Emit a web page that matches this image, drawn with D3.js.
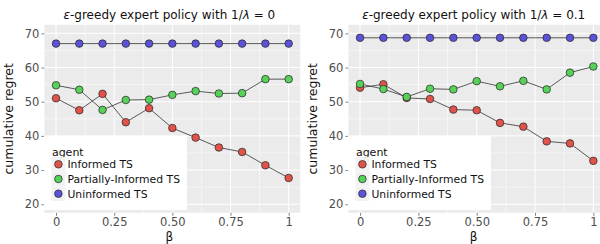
<!DOCTYPE html>
<html><head><meta charset="utf-8">
<script src="https://cdn.jsdelivr.net/npm/d3@7"></script>
<style>body{margin:0;background:#fff}svg{display:block;font-family:"DejaVu Sans",sans-serif}</style>
</head><body><svg id="c" width="600" height="244"></svg>
<script>
const betas = [0,0.1,0.2,0.3,0.4,0.5,0.6,0.7,0.8,0.9,1];
const agents = ["Informed TS","Partially-Informed TS","Uninformed TS"];
const colors = ["#e0534a","#57d159","#5a52d8"];
const xTicks = [0,0.25,0.5,0.75,1];
const xTickLabels = ["0","0.25","0.50","0.75","1"];
const yTicks = [20,30,40,50,60,70];
const titlesPre = ["1/","1/"];
const titleVals = ["0","0.1"];
// panel 1: 1/lambda = 0
const p1Informed = [51.0,47.5,52.3,44.0,48.1,42.3,39.5,36.6,35.3,31.4,27.7];
const p1Partial  = [54.8,53.5,47.6,50.5,50.6,52.0,53.1,52.4,52.5,56.6,56.6];
const p1Uninf    = [67.0,67.0,67.0,67.0,67.0,67.0,67.0,67.0,67.0,67.0,67.0];
// panel 2: 1/lambda = 0.1
const p2Informed = [54.1,55.1,51.1,50.8,47.7,47.5,43.8,42.7,38.4,37.8,32.7];
const p2Partial  = [55.2,53.7,51.4,53.8,53.6,56.0,54.5,56.1,53.6,58.5,60.3];
const p2Uninf    = [68.7,68.7,68.7,68.7,68.7,68.7,68.7,68.7,68.7,68.7,68.7];

(function(){
const panels = [
  {series:[p1Informed,p1Partial,p1Uninf], left:44.4, right:300.3, val:titleVals[0]},
  {series:[p2Informed,p2Partial,p2Uninf], left:348.4, right:605, val:titleVals[1]}
];
const svg = d3.select("#c");
const pTop = 24.8, pBottom = 212.8;
const y = d3.scaleLinear().domain([17.5,72.5]).range([pBottom, pTop]);
const tickCol = "#4d4d4d";

panels.forEach((p,pi)=>{
  const x = d3.scaleLinear().domain([-0.05,1.05]).range([p.left,p.right]);
  const g = svg.append("g");
  g.append("rect").attr("x",p.left).attr("y",pTop).attr("width",p.right-p.left).attr("height",pBottom-pTop).attr("fill","#ebebeb");
  const xMinor = [0.125,0.375,0.625,0.875];
  const yMinor = [25,35,45,55,65];
  g.selectAll(".xm").data(xMinor).enter().append("line")
    .attr("x1",d=>x(d)).attr("x2",d=>x(d)).attr("y1",pTop).attr("y2",pBottom)
    .attr("stroke","#fff").attr("stroke-width",0.5);
  g.selectAll(".ym").data(yMinor).enter().append("line")
    .attr("y1",d=>y(d)).attr("y2",d=>y(d)).attr("x1",p.left).attr("x2",p.right)
    .attr("stroke","#fff").attr("stroke-width",0.5);
  g.selectAll(".xg").data(xTicks).enter().append("line")
    .attr("x1",d=>x(d)).attr("x2",d=>x(d)).attr("y1",pTop).attr("y2",pBottom)
    .attr("stroke","#fff").attr("stroke-width",1);
  g.selectAll(".yg").data(yTicks).enter().append("line")
    .attr("y1",d=>y(d)).attr("y2",d=>y(d)).attr("x1",p.left).attr("x2",p.right)
    .attr("stroke","#fff").attr("stroke-width",1);
  const ax = g.append("g").attr("transform",`translate(0,${pBottom})`)
    .call(d3.axisBottom(x).tickValues(xTicks).tickFormat((d,i)=>xTickLabels[i]).tickSize(3).tickPadding(2));
  const ay = g.append("g").attr("transform",`translate(${p.left},0)`)
    .call(d3.axisLeft(y).tickValues(yTicks).tickSize(3).tickPadding(2));
  [ax,ay].forEach(a=>{
    a.select(".domain").remove();
    a.selectAll(".tick line").attr("stroke","#333").attr("stroke-width",0.6);
    a.selectAll(".tick text").attr("fill",tickCol).attr("font-size",11.5).attr("font-family","DejaVu Sans");
  });
  p.series.forEach((s,si)=>{
    const line = d3.line().x((d,i)=>x(betas[i])).y(d=>y(d));
    g.append("path").datum(s).attr("d",line).attr("fill","none").attr("stroke","#333").attr("stroke-width",0.8);
  });
  p.series.forEach((s,si)=>{
    g.selectAll(".pt"+si).data(s).enter().append("circle")
      .attr("cx",(d,i)=>x(betas[i])).attr("cy",d=>y(d)).attr("r",3.8)
      .attr("fill",colors[si]).attr("stroke","#222").attr("stroke-width",0.7);
  });
  const tcx = (p.left + p.right)/2 - 3;
  const t = g.append("text").attr("x",tcx).attr("y",19).attr("text-anchor","middle").attr("font-size",12).attr("fill","#111");
  t.append("tspan").attr("font-style","italic").text("ε");
  t.append("tspan").text("-greedy expert policy with " + titlesPre[pi]);
  t.append("tspan").attr("font-style","italic").text("λ");
  t.append("tspan").text(" = " + p.val);
  g.append("text").attr("x",tcx).attr("y",240.5).attr("text-anchor","middle").attr("font-size",12).attr("fill","#111").text("β");
  g.append("text").attr("transform",`translate(${p.left-31},${(pTop+pBottom)/2}) rotate(-90)`)
    .attr("text-anchor","middle").attr("font-size",12.5).attr("fill","#111").text("cumulative regret");
  const lg = g.append("g");
  lg.append("rect").attr("x",p.left-0.5).attr("y",136).attr("width",143).attr("height",74).attr("fill","#fff");
  lg.append("text").attr("x",p.left+7.5).attr("y",156).attr("font-size",11).attr("fill","#111").text("agent");
  agents.forEach((a,ai)=>{
    const cy = 164.3 + ai*14.7;
    lg.append("rect").attr("x",p.left+7).attr("y",cy-7.2).attr("width",14).attr("height",14.4).attr("fill","#f2f2f2");
    lg.append("circle").attr("cx",p.left+14).attr("cy",cy).attr("r",3.8)
      .attr("fill",colors[ai]).attr("stroke","#222").attr("stroke-width",0.7);
    lg.append("text").attr("x",p.left+23).attr("y",cy+4).attr("font-size",10.8).attr("fill","#111").text(a);
  });
});
})();
</script></body></html>
